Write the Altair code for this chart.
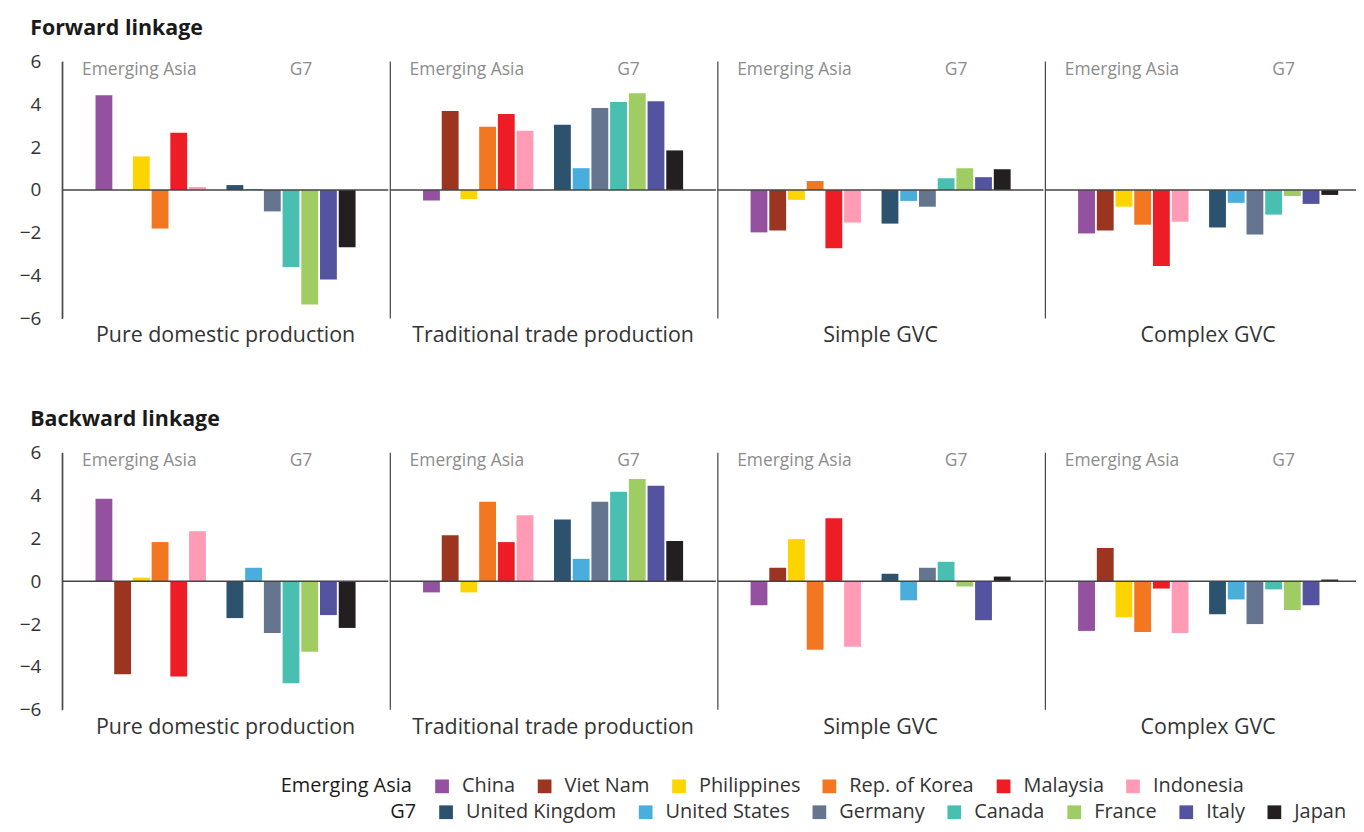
import altair as alt
import pandas as pd

FONT = "Open Sans"

components = ["Pure domestic production", "Traditional trade production", "Simple GVC", "Complex GVC"]
ea_countries = ["China", "Viet Nam", "Philippines", "Rep. of Korea", "Malaysia", "Indonesia"]
g7_countries = ["United Kingdom", "United States", "Germany", "Canada", "France", "Italy", "Japan"]
ea_colors = ["#9351A0", "#9B3520", "#FCD500", "#F37621", "#EE1C25", "#FF9BB5"]
g7_colors = ["#2D526E", "#4AAEDC", "#65758F", "#48BFB1", "#9FCD63", "#5453A0", "#231F20"]

# values: 6 Emerging Asia followed by 7 G7 economies
forward_pure = [4.43, 0.0, 1.57, -1.80, 2.68, 0.14, 0.23, 0.05, -1.00, -3.60, -5.35, -4.18, -2.68]
forward_trad = [-0.49, 3.69, -0.42, 2.95, 3.55, 2.77, 3.05, 1.02, 3.83, 4.11, 4.52, 4.15, 1.85]
forward_simple = [-1.98, -1.89, -0.46, 0.42, -2.72, -1.52, -1.57, -0.51, -0.78, 0.55, 1.02, 0.60, 0.97]
forward_complex = [-2.03, -1.89, -0.78, -1.62, -3.55, -1.48, -1.75, -0.60, -2.08, -1.15, -0.28, -0.65, -0.23]

backward_pure = [3.86, -4.35, 0.17, 1.83, -4.45, 2.34, -1.72, 0.63, -2.42, -4.77, -3.29, -1.58, -2.18]
backward_trad = [-0.52, 2.15, -0.52, 3.72, 1.83, 3.08, 2.89, 1.05, 3.72, 4.18, 4.78, 4.46, 1.88]
backward_simple = [-1.12, 0.63, 1.97, -3.20, 2.94, -3.06, 0.35, -0.89, 0.63, 0.91, -0.25, -1.82, 0.22]
backward_complex = [-2.32, 1.55, -1.68, -2.37, -0.34, -2.42, -1.54, -0.85, -2.00, -0.38, -1.34, -1.12, 0.08]

group_labels = ["Emerging Asia", "G7"]
group_label_anchor = ["Philippines", "Canada"]

all_countries = ea_countries + g7_countries
# empty slots: one at each end and one between the two groups
x_domain = ["  "] + ea_countries + [" "] + g7_countries + ["   "]


def make_df(series_list):
    rows = []
    for comp, vals in zip(components, series_list):
        for c, v in zip(all_countries, vals):
            rows.append({
                "component": comp,
                "country": c,
                "group": group_labels[0] if c in ea_countries else group_labels[1],
                "value": v,
            })
    return pd.DataFrame(rows)


df_forward = make_df([forward_pure, forward_trad, forward_simple, forward_complex])
df_backward = make_df([backward_pure, backward_trad, backward_simple, backward_complex])

PANEL_W = 327
PANEL_H = 258

x_enc = alt.X("country:N", scale=alt.Scale(domain=x_domain, paddingInner=0.1, paddingOuter=0.75), axis=None)
y_scale = alt.Scale(domain=[-6, 6], nice=False, zero=False)
y_axis = alt.Axis(values=[-6, -4, -2, 0, 2, 4, 6], title=None, grid=False, ticks=False,
                  domain=True, domainColor="#444444", domainWidth=1.2,
                  labelFontSize=19, labelColor="#333333", labelFont=FONT, labelPadding=21)

ea_legend = alt.Legend(title="Emerging Asia", orient="none", legendX=219, legendY=718,
                       direction="horizontal", titleOrient="left", columnPadding=19)
g7_legend = alt.Legend(title="G7", orient="none", legendX=329, legendY=744,
                       direction="horizontal", titleOrient="left", columnPadding=19.5)


def row_chart(df, title, show_legend):
    base = alt.Chart()
    ea_bars = base.mark_bar().encode(
        x=x_enc,
        y=alt.Y("value:Q", scale=y_scale, axis=y_axis),
        color=alt.Color("ea_country:N", scale=alt.Scale(domain=ea_countries, range=ea_colors),
                        legend=ea_legend if show_legend else None),
    ).transform_filter(alt.datum.group == group_labels[0]).transform_calculate(ea_country="datum.country")
    g7_bars = base.mark_bar().encode(
        x=x_enc,
        y=alt.Y("value:Q", scale=y_scale, axis=y_axis),
        fill=alt.Fill("g7_country:N", scale=alt.Scale(domain=g7_countries, range=g7_colors),
                      legend=g7_legend if show_legend else None),
    ).transform_filter(alt.datum.group == group_labels[1]).transform_calculate(g7_country="datum.country")
    zero = base.mark_rule(color="#444444", strokeWidth=1.5).encode(
        y=alt.datum(0), x=alt.value(0), x2=alt.value("width")
    ).transform_filter(alt.datum.country == ea_countries[0])
    vline = base.mark_rule(color="#444444", strokeWidth=1.2).encode(
        x=alt.value(0), y=alt.datum(6), y2=alt.datum(-6)
    ).transform_filter(alt.datum.country == ea_countries[0])
    txt_ea = base.mark_text(baseline="top", align="center", fontSize=17.5, color="#8c8c8c",
                            font=FONT, dx=-2, dy=-1).encode(
        x=x_enc, y=alt.datum(6), text="group:N"
    ).transform_filter(alt.datum.country == group_label_anchor[0])
    txt_g7 = base.mark_text(baseline="top", align="center", fontSize=17.5, color="#8c8c8c",
                            font=FONT, dx=10, dy=-1).encode(
        x=x_enc, y=alt.datum(6), text="group:N"
    ).transform_filter(alt.datum.country == group_label_anchor[1])
    layered = alt.layer(ea_bars, g7_bars, zero, vline, txt_ea, txt_g7, data=df).properties(
        width=PANEL_W, height=PANEL_H)
    return layered.facet(
        column=alt.Column("component:N", sort=components,
                          header=alt.Header(title=None, labelOrient="bottom", labelFontSize=21.5,
                                            labelColor="#333333", labelFont=FONT, labelPadding=6)),
        spacing=0,
    ).properties(title=alt.TitleParams(title, anchor="start", fontSize=21.5, font=FONT,
                                       fontWeight="bold", color="#1a1a1a", offset=13, dx=11,
                                       frame="bounds"))


chart = alt.vconcat(
    row_chart(df_forward, "Forward linkage", True),
    row_chart(df_backward, "Backward linkage", False),
    spacing=62,
).properties(padding={"left": 11, "top": 8, "right": -16, "bottom": 0}).configure_view(
    stroke=None
).configure_legend(
    symbolType="square", symbolSize=190, symbolStrokeWidth=0, labelFontSize=20, titleFontSize=20,
    labelFont=FONT, titleFont=FONT, labelColor="#333333", titleColor="#1a1a1a",
    titleFontWeight=500, labelOffset=10, titlePadding=20, labelLimit=400,
    titleLimit=400, symbolOpacity=1,
)

chart.save("out.html", embed_options={"renderer": "svg", "actions": False})
